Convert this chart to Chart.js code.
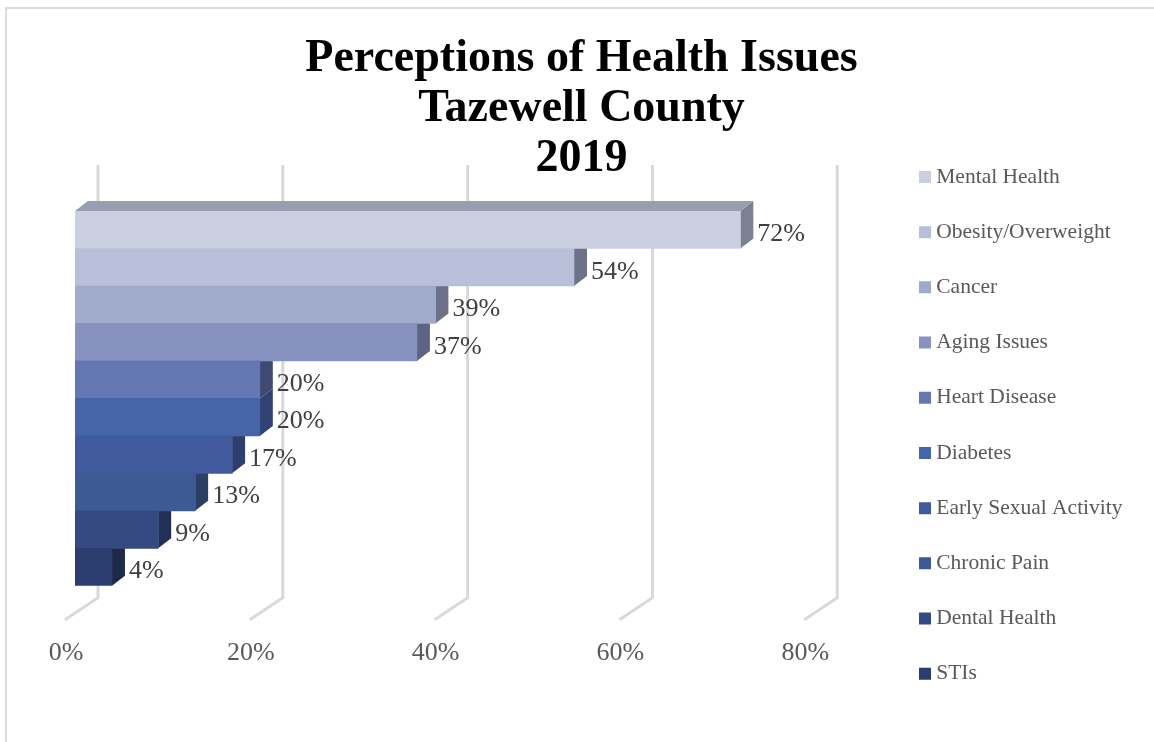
<!DOCTYPE html>
<html><head><meta charset="utf-8">
<style>
html,body{margin:0;padding:0;background:#fff;overflow:hidden}
#wrap{position:absolute;left:0;top:0;width:1154px;height:742px;overflow:hidden}
#frame{position:absolute;left:5px;top:7px;width:1200px;height:800px;border-left:2px solid #dcdcdc;border-top:2px solid #dcdcdc;box-sizing:border-box}
canvas{position:absolute;left:0;top:0}
</style>
<script src="https://cdn.jsdelivr.net/npm/chart.js@4"></script>
</head><body>
<div id="wrap"><div id="frame"></div><canvas id="c" width="1154" height="742"></canvas></div>
<script>
const categories=["Mental Health","Obesity/Overweight","Cancer","Aging Issues","Heart Disease","Diabetes","Early Sexual Activity","Chronic Pain","Dental Health","STIs"];
const values=[72,54,39,37,20,20,17,13,9,4];
const barColors=["#cbcfe2","#b9bed9","#a0abcc","#8792c0","#6477b2","#4664a8","#415a9d","#3c5a94","#364a82","#2c3e6f"];
const sideColors=["#7d8092","#6e7286","#6a7188","#5c6384","#3f4a74","#2f4272","#2e3f6e","#2a3e66","#232f56","#1e2a4c"];
const topColor="#9a9eae";
const titleLines=["Perceptions of Health Issues","Tazewell County","2019"];
const xTicks=[0,20,40,60,80];
const serif='"Liberation Serif"';

const depth={dx:13,dy:-10};
const wall={dx:23,top:46,bottom:12,floorDx:-33,floorDy:22};

const threeD={
  id:'threeD',
  afterLayout(chart){
    const l=chart.legend,t=chart.titleBlock,w=l.width;
    l.left=924.5-l.options.labels.padding;l.right=l.left+w;
    const h=l.height;
    l.top=132.5;l.bottom=l.top+h;
    t.left+=16;t.right+=16;
  },
  beforeDatasetsDraw(chart){
    const {ctx,chartArea:a,scales:{x}}=chart;
    ctx.save();
    ctx.strokeStyle='#d9d9d9';ctx.lineWidth=3;ctx.lineJoin='round';
    x.ticks.forEach((t,i)=>{
      const px=x.getPixelForTick(i)+wall.dx;
      ctx.beginPath();
      ctx.moveTo(px,a.top-wall.top);
      ctx.lineTo(px,a.bottom+wall.bottom);
      ctx.lineTo(px+wall.floorDx,a.bottom+wall.bottom+wall.floorDy);
      ctx.stroke();
    });
    const bars=chart.getDatasetMeta(0).data;
    bars.forEach((b,i)=>{
      const top=b.y-b.height/2,bot=b.y+b.height/2;
      ctx.fillStyle=sideColors[i];
      ctx.beginPath();
      ctx.moveTo(b.x,top);
      ctx.lineTo(b.x+depth.dx,top+depth.dy);
      ctx.lineTo(b.x+depth.dx,bot+depth.dy);
      ctx.lineTo(b.x,bot);
      ctx.closePath();ctx.fill();
    });
    const f=bars[0],ft=f.y-f.height/2;
    ctx.fillStyle=topColor;
    ctx.beginPath();
    ctx.moveTo(a.left,ft);
    ctx.lineTo(a.left+depth.dx,ft+depth.dy);
    ctx.lineTo(f.x+depth.dx,ft+depth.dy);
    ctx.lineTo(f.x,ft);
    ctx.closePath();ctx.fill();
    ctx.restore();
  },
  afterDatasetsDraw(chart){
    const {ctx}=chart;
    ctx.save();
    ctx.font='26px '+serif;ctx.fillStyle='#404040';ctx.textBaseline='middle';ctx.textAlign='left';
    chart.getDatasetMeta(0).data.forEach((b,i)=>{
      ctx.fillText(values[i]+'%',b.x+17,b.y+4.5);
    });
    ctx.restore();
  }
};

new Chart(document.getElementById('c'),{
  type:'bar',
  data:{labels:categories,datasets:[{data:values,backgroundColor:barColors,borderWidth:0,barPercentage:1,categoryPercentage:1}]},
  plugins:[threeD],
  options:{
    indexAxis:'y',responsive:false,animation:false,
    layout:{padding:{left:75,right:98,top:34,bottom:29}},
    scales:{
      x:{min:0,max:80,grid:{display:false},border:{display:false},
        afterBuildTicks(ax){ax.ticks=xTicks.map(v=>({value:v}));},
        ticks:{callback:v=>v+'%',font:{family:serif,size:26},color:'#595959',labelOffset:-9,padding:44,maxRotation:0}},
      y:{display:false}
    },
    plugins:{
      tooltip:{enabled:false},
      title:{display:true,text:titleLines,font:{family:serif,size:46,weight:'bold',lineHeight:1.087},color:'#000',padding:{top:0,bottom:27}},
      legend:{position:'right',align:'start',
        labels:{usePointStyle:true,boxWidth:1,boxHeight:12,padding:33.7,color:'#595959',font:{family:serif,size:21.5},
          generateLabels:()=>categories.map((c,i)=>({text:c,fillStyle:barColors[i],strokeStyle:barColors[i],fontColor:'#595959',lineWidth:0,pointStyle:'rect',index:i}))}}
    }
  }
});
</script>
</body></html>
